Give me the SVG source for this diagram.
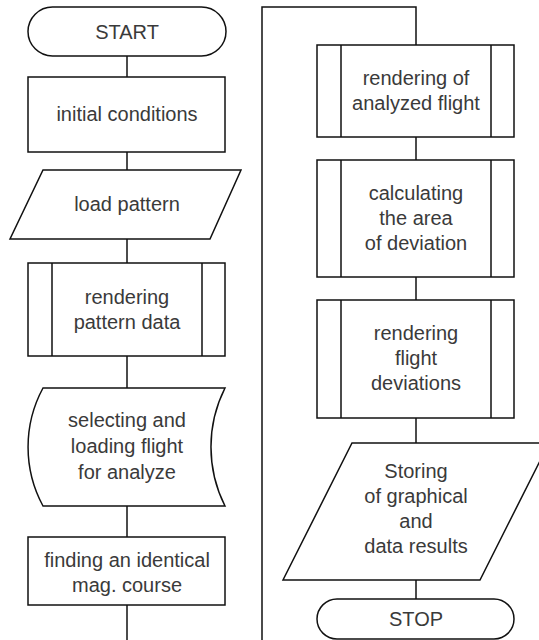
<svg xmlns="http://www.w3.org/2000/svg" width="539" height="640" viewBox="0 0 539 640">
<style>
.s{fill:#fff;stroke:#111;stroke-width:1.5}
.l{fill:none;stroke:#111;stroke-width:1.5}
.c{fill:none;stroke:#111;stroke-width:1.5}
text{font-family:"Liberation Sans",Arial,sans-serif;font-size:20px;fill:#3a3a3a;text-anchor:middle}
</style>
<rect width="539" height="640" fill="#fff"/>
<g id="connectors">
<path class="c" d="M127,56V77"/>
<path class="c" d="M127,152V170"/>
<path class="c" d="M127,239V263"/>
<path class="c" d="M127,356V388"/>
<path class="c" d="M127,506V537"/>
<path class="c" d="M127,605V640"/>
<path class="c" d="M262,640V7H416V45"/>
<path class="c" d="M416,137V160"/>
<path class="c" d="M416,277V300"/>
<path class="c" d="M416,418V443"/>
<path class="c" d="M416,580V599"/>
</g>
<g id="start">
<rect class="s" x="28" y="7" width="198" height="49" rx="24.5"/>
<text x="127" y="39">START</text>
</g>
<g id="initial">
<rect class="s" x="28" y="77" width="197" height="75"/>
<text x="127" y="121">initial conditions</text>
</g>
<g id="load">
<polygon class="s" points="43,170 241,170 210,239 10,239"/>
<text x="127" y="211">load pattern</text>
</g>
<g id="renderPattern">
<rect class="s" x="28" y="263" width="197" height="93"/>
<path class="l" d="M52,263V356M202,263V356"/>
<text x="127" y="304">rendering</text>
<text x="127" y="329">pattern data</text>
</g>
<g id="selecting">
<path class="s" d="M43,388H225A131,131 0 0 0 225,506H43A124,124 0 0 1 43,388Z"/>
<text x="127" y="427">selecting and</text>
<text x="127" y="453">loading flight</text>
<text x="127" y="479">for analyze</text>
</g>
<g id="finding">
<rect class="s" x="28" y="537" width="197" height="68"/>
<text x="127" y="567">finding an identical</text>
<text x="127" y="592">mag. course</text>
</g>
<g id="renderFlight">
<rect class="s" x="317" y="45" width="197" height="92"/>
<path class="l" d="M341,45V137M491,45V137"/>
<text x="416" y="85">rendering of</text>
<text x="416" y="110">analyzed flight</text>
</g>
<g id="calculating">
<rect class="s" x="317" y="160" width="197" height="117"/>
<path class="l" d="M341,160V277M491,160V277"/>
<text x="416" y="200">calculating</text>
<text x="416" y="225">the area</text>
<text x="416" y="250">of deviation</text>
</g>
<g id="renderDev">
<rect class="s" x="317" y="300" width="197" height="118"/>
<path class="l" d="M341,300V418M491,300V418"/>
<text x="416" y="340">rendering</text>
<text x="416" y="365">flight</text>
<text x="416" y="390">deviations</text>
</g>
<g id="storing">
<polygon class="s" points="352,443 549,443 480,580 283,580"/>
<text x="416" y="478">Storing</text>
<text x="416" y="503">of graphical</text>
<text x="416" y="528">and</text>
<text x="416" y="553">data results</text>
</g>
<g id="stop">
<rect class="s" x="317" y="599" width="197" height="40" rx="20"/>
<text x="416" y="626">STOP</text>
</g>
</svg>
